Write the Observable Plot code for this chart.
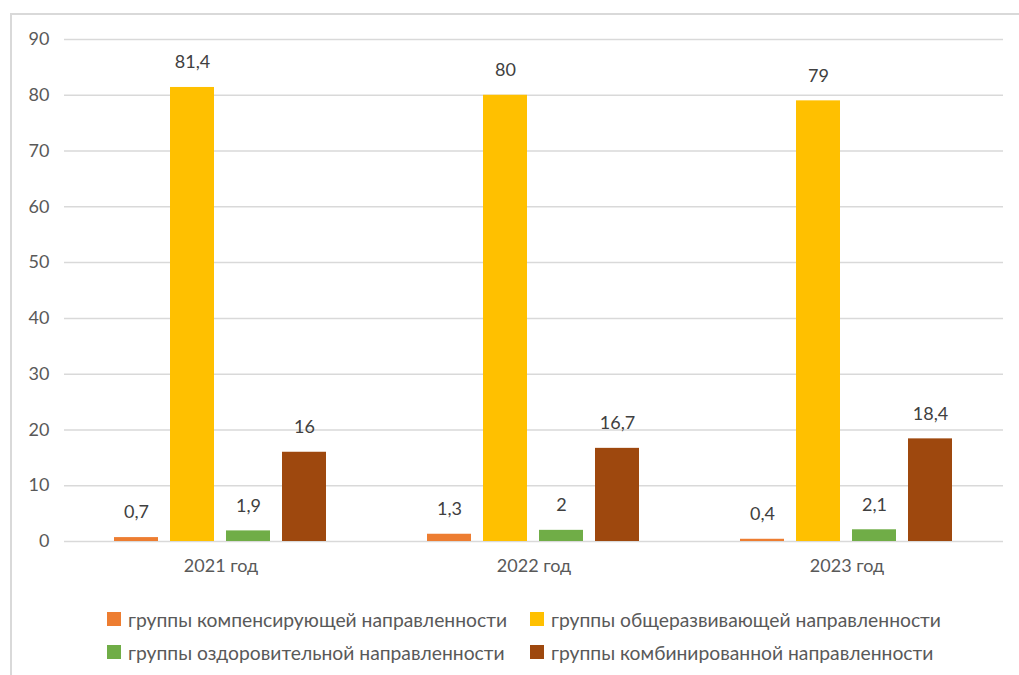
<!DOCTYPE html>
<html><head><meta charset="utf-8">
<script src="https://cdn.jsdelivr.net/npm/d3@7"></script>
<script src="https://cdn.jsdelivr.net/npm/@observablehq/plot@0.6"></script>
<style>
html,body{margin:0;padding:0;background:#fff;width:1019px;height:675px;overflow:hidden;font-family:Lato,"Open Sans",sans-serif;}
#frame{position:absolute;left:10px;top:13px;width:1030px;height:700px;border:2px solid #d9d9d9;box-sizing:border-box;}
#chart{position:absolute;left:0;top:0;}
.leg{position:absolute;display:flex;align-items:center;font-size:19.3px;color:#595959;white-space:nowrap;}
.sw{width:14px;height:14px;margin-right:7px;}
</style></head>
<body>
<div id="frame"></div>
<div id="chart"></div>
<div id="legend"></div>
<script>
const years = ["2021 год", "2022 год", "2023 год"];
const series = [
  "группы компенсирующей направленности",
  "группы общеразвивающей направленности",
  "группы оздоровительной направленности",
  "группы комбинированной направленности"
];
const colors = ["#ED7D31", "#FFC000", "#70AD47", "#9E480E"];
const compensating = [0.7, 1.3, 0.4];
const general = [81.4, 80, 79];
const health = [1.9, 2, 2.1];
const combined = [16, 16.7, 18.4];
const yTicks = [0, 10, 20, 30, 40, 50, 60, 70, 80, 90];

const seriesValues = [compensating, general, health, combined];
const data = [];
years.forEach((yr, i) => {
  series.forEach((s, j) => data.push({year: yr, series: s, value: seriesValues[j][i]}));
});
const fmt = v => String(v).replace(".", ",");

const chart = Plot.plot({
  width: 1019,
  height: 580,
  marginTop: 39,
  marginBottom: 39,
  marginLeft: 63,
  marginRight: 15,
  style: {fontFamily: "Lato, 'Open Sans', sans-serif", fontSize: "18px", color: "#595959", background: "transparent"},
  fx: {domain: years, padding: 0, label: null, axis: "bottom", tickSize: 0, tickPadding: 18},
  x: {domain: series, paddingInner: 0.21, paddingOuter: 0.86, axis: null},
  y: {domain: [0, 90], ticks: yTicks, label: null, tickSize: 0, tickPadding: 15},
  color: {domain: series, range: colors},
  marks: [
    Plot.ruleY(yTicks, {stroke: "#d9d9d9", strokeWidth: 1.5}),
    Plot.barY(data, {fx: "year", x: "series", y: "value", fill: "series"}),
    Plot.text(data, {fx: "year", x: "series", y: "value", text: d => fmt(d.value), dy: -25, lineAnchor: "middle", fill: "#404040", fontSize: 18})
  ]
});
document.getElementById("chart").appendChild(chart);

const legend = document.getElementById("legend");
const pos = [[107, 619], [530, 619], [107, 652], [530, 652]];
series.forEach((s, j) => {
  const d = document.createElement("div");
  d.className = "leg";
  d.style.left = pos[j][0] + "px";
  d.style.top = (pos[j][1] - 12) + "px";
  d.style.height = "24px";
  d.innerHTML = `<span class="sw" style="background:${colors[j]}"></span><span>${s}</span>`;
  legend.appendChild(d);
});
</script>
</body></html>
